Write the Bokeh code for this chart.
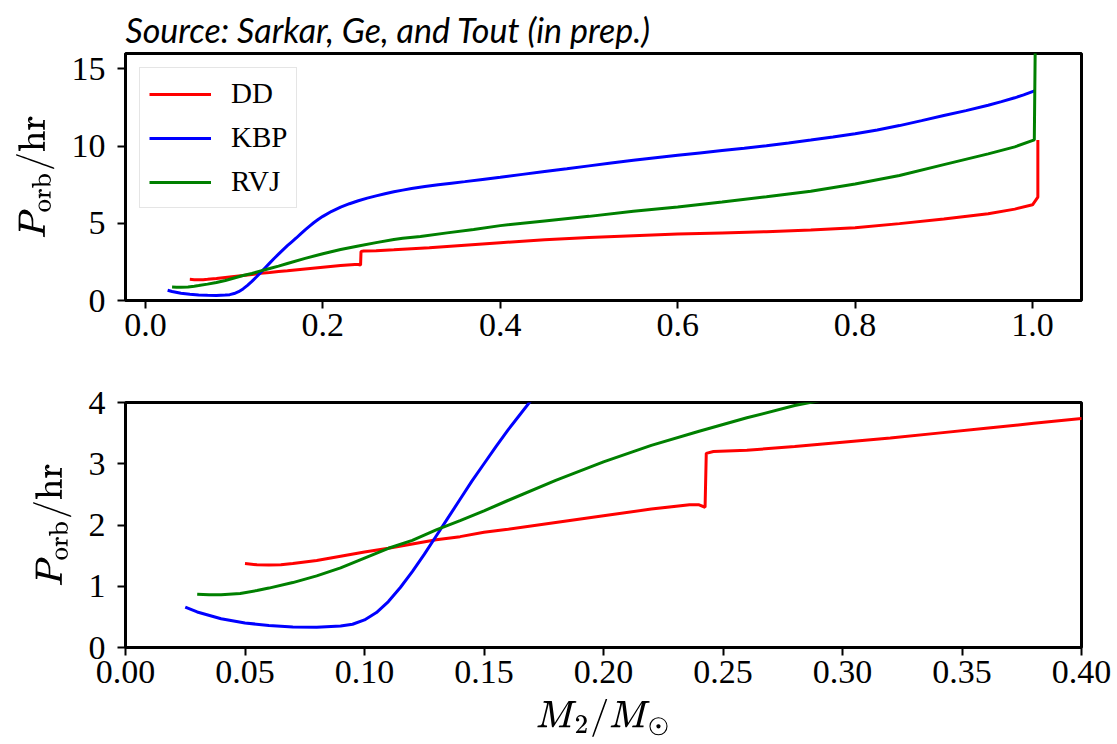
from bokeh.plotting import figure
from bokeh.layouts import column
from bokeh.models import FixedTicker, NumeralTickFormatter, Range1d
from bokeh.embed import file_html
from bokeh.resources import INLINE

# ---------------- data ----------------
title_text = "Source: Sarkar, Ge, and Tout (in prep.)"
series_names = ["DD", "KBP", "RVJ"]
series_colors = ["#ff0000", "#0000ff", "#008000"]

dd_m2 = [0.050, 0.055, 0.060, 0.065, 0.070, 0.080, 0.090, 0.100, 0.110, 0.120,
         0.130, 0.140, 0.150, 0.160, 0.180, 0.200, 0.220, 0.236, 0.240, 0.2425,
         0.2430, 0.246, 0.260, 0.280, 0.300, 0.320, 0.340, 0.360, 0.380, 0.400,
         0.450, 0.500, 0.550, 0.600, 0.650, 0.700, 0.750, 0.800, 0.850, 0.900,
         0.950, 0.980, 1.000, 1.006, 1.006]
dd_porb = [1.37, 1.35, 1.345, 1.35, 1.37, 1.42, 1.49, 1.56, 1.62, 1.69,
           1.76, 1.81, 1.88, 1.93, 2.04, 2.15, 2.26, 2.33, 2.33, 2.29,
           3.17, 3.20, 3.22, 3.28, 3.35, 3.42, 3.50, 3.58, 3.66, 3.74,
           3.93, 4.08, 4.20, 4.30, 4.38, 4.46, 4.57, 4.72, 4.98, 5.28,
           5.62, 5.92, 6.20, 6.70, 10.40]

kbp_m2 = [0.025, 0.030, 0.040, 0.050, 0.060, 0.070, 0.080, 0.090, 0.095, 0.100,
          0.105, 0.110, 0.115, 0.120, 0.125, 0.130, 0.135, 0.140, 0.145, 0.150,
          0.155, 0.160, 0.165, 0.170, 0.175, 0.180, 0.185, 0.190, 0.195, 0.200,
          0.210, 0.220, 0.230, 0.240, 0.250, 0.260, 0.270, 0.280, 0.290, 0.300,
          0.315, 0.330, 0.345, 0.360, 0.380, 0.400, 0.425, 0.450, 0.475, 0.500,
          0.525, 0.550, 0.575, 0.600, 0.625, 0.650, 0.675, 0.700, 0.725, 0.750,
          0.775, 0.800, 0.825, 0.850, 0.875, 0.900, 0.925, 0.950, 0.965, 0.980,
          0.990, 1.003]
kbp_porb = [0.66, 0.58, 0.47, 0.40, 0.36, 0.335, 0.33, 0.35, 0.38, 0.45,
            0.57, 0.75, 0.98, 1.24, 1.52, 1.82, 2.12, 2.42, 2.72, 3.00,
            3.28, 3.55, 3.80, 4.05, 4.32, 4.58, 4.82, 5.05, 5.26, 5.45,
            5.78, 6.05, 6.27, 6.46, 6.63, 6.78, 6.92, 7.04, 7.15, 7.25,
            7.38, 7.50, 7.60, 7.70, 7.84, 7.98, 8.17, 8.35, 8.53, 8.72,
            8.91, 9.08, 9.25, 9.41, 9.56, 9.71, 9.86, 10.02, 10.20, 10.39,
            10.59, 10.80, 11.05, 11.33, 11.65, 11.98, 12.30, 12.65, 12.88, 13.13,
            13.32, 13.60]

rvj_m2 = [0.030, 0.035, 0.040, 0.048, 0.055, 0.060, 0.070, 0.080, 0.090, 0.100,
          0.110, 0.120, 0.130, 0.140, 0.150, 0.160, 0.180, 0.200, 0.220, 0.240,
          0.260, 0.280, 0.290, 0.310, 0.340, 0.370, 0.400, 0.450, 0.500, 0.550,
          0.600, 0.650, 0.700, 0.750, 0.800, 0.850, 0.900, 0.950, 0.980, 1.002,
          1.0045]
rvj_porb = [0.87, 0.86, 0.86, 0.88, 0.93, 0.97, 1.06, 1.17, 1.30, 1.46,
            1.62, 1.75, 1.92, 2.07, 2.23, 2.40, 2.73, 3.03, 3.30, 3.53,
            3.75, 3.95, 4.03, 4.15, 4.38, 4.60, 4.85, 5.15, 5.45, 5.78,
            6.05, 6.38, 6.72, 7.08, 7.55, 8.10, 8.80, 9.50, 9.95, 10.40,
            25.0]

top_xticks = [0.0, 0.2, 0.4, 0.6, 0.8, 1.0]
top_yticks = [0, 5, 10, 15]
bot_xticks = [0.00, 0.05, 0.10, 0.15, 0.20, 0.25, 0.30, 0.35, 0.40]
bot_yticks = [0, 1, 2, 3, 4]

xs_all = [dd_m2, kbp_m2, rvj_m2]
ys_all = [dd_porb, kbp_porb, rvj_porb]

SERIF = "Liberation Serif"


def style(p, xticks, yticks, xfmt):
    p.background_fill_color = "white"
    p.border_fill_color = "white"
    p.outline_line_color = "black"
    p.outline_line_width = 3
    p.outline_line_alpha = 1.0
    p.xgrid.visible = False
    p.ygrid.visible = False
    p.xaxis.ticker = FixedTicker(ticks=xticks)
    p.yaxis.ticker = FixedTicker(ticks=yticks)
    p.xaxis.formatter = NumeralTickFormatter(format=xfmt)
    for ax in (p.xaxis[0], p.yaxis[0]):
        ax.axis_line_width = 3
        ax.axis_line_color = "black"
        ax.major_tick_line_width = 2
        ax.major_tick_line_color = "black"
        ax.major_tick_out = 8
        ax.major_tick_in = 0
        ax.minor_tick_line_color = None
        ax.major_label_text_font = SERIF
        ax.major_label_text_font_size = "34px"
        ax.major_label_text_color = "black"
        ax.axis_label_text_font_size = "31px"
        ax.axis_label_text_font_style = "normal"
        ax.axis_label_text_color = "black"
    p.xaxis.major_label_standoff = 5
    p.yaxis.major_label_standoff = 12
    p.yaxis.axis_label_standoff = 14


# ---------------- top panel ----------------
p1 = figure(width=1117, height=360, output_backend="svg", toolbar_location=None,
            x_range=Range1d(-0.0225, 1.0552), y_range=Range1d(0, 16),
            min_border_left=125, min_border_right=35, min_border_top=53,
            min_border_bottom=60)
p1.title.text = title_text
p1.title.text_font = "Lato"
p1.title.text_font_style = "italic"
p1.title.text_font_size = "34px"
p1.title.text_color = "black"
p1.title.align = "left"
p1.title.standoff = 8
style(p1, top_xticks, top_yticks, "0.0")
p1.yaxis.axis_label = r"$$P_\mathrm{orb}/\mathrm{hr}$$"

for xs, ys, name, col in zip(xs_all, ys_all, series_names, series_colors):
    p1.line(xs, ys, line_color=col, line_width=3, legend_label=name)

lg = p1.legend[0]
lg.location = "top_left"
lg.margin = 14
lg.padding = 9
lg.spacing = 11
lg.glyph_width = 62
lg.glyph_height = 30
lg.label_height = 30
lg.label_standoff = 20
lg.label_text_font = SERIF
lg.label_text_font_size = "29px"
lg.label_text_color = "black"
lg.border_line_color = "#cccccc"
lg.border_line_width = 1.5
lg.background_fill_alpha = 0.8

# ---------------- bottom panel ----------------
p2 = figure(width=1117, height=384, output_backend="svg", toolbar_location=None,
            x_range=Range1d(0, 0.4), y_range=Range1d(0, 4),
            min_border_left=125, min_border_right=36, min_border_top=42,
            min_border_bottom=97)
style(p2, bot_xticks, bot_yticks, "0.00")
p2.yaxis.axis_label = r"$$P_\mathrm{orb}/\mathrm{hr}$$"
p2.xaxis.axis_label = r"$$M_2/M_\odot$$"
p2.xaxis.axis_label_standoff = 13

for xs, ys, col in zip(xs_all, ys_all, series_colors):
    p2.line(xs, ys, line_color=col, line_width=3)

layout = column(p1, p2, spacing=0)
open("out.html", "w").write(file_html(layout, INLINE))
